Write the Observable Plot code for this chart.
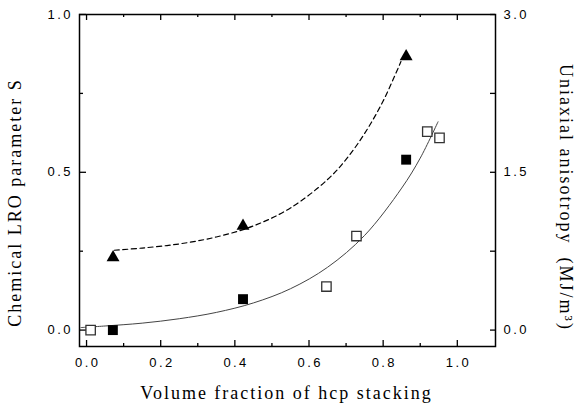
<!DOCTYPE html>
<html>
<head>
<meta charset="utf-8">
<script src="https://cdn.jsdelivr.net/npm/d3@7"></script>
<script src="https://cdn.jsdelivr.net/npm/@observablehq/plot@0.6"></script>
<style>
  body { margin: 0; background: #fff; }
  g[aria-label="text"] text { letter-spacing: 2px; }
  g[aria-label$="tick label"] text { letter-spacing: 2.4px; }
</style>
</head>
<body>
<div id="chart"></div>
<script>
// Chemical LRO parameter S versus volume fraction of hcp stacking
const openX = [0.011, 0.647, 0.728, 0.919, 0.952];
const openS = [0.0, 0.138, 0.298, 0.629, 0.609];
const filledX = [0.071, 0.422, 0.862];
const filledS = [0.0, 0.098, 0.540];

// Uniaxial anisotropy (MJ/m^3), read on the right-hand axis
const triX = [0.0715, 0.422, 0.862];
const triK = [0.69, 0.99, 2.60];

// Fitted trend through S (solid) and through anisotropy (dashed)
const fitSX = [-0.015, 0.05, 0.15, 0.25, 0.35, 0.45, 0.55, 0.65, 0.75, 0.85, 0.90, 0.948];
const fitS = [0.008, 0.013, 0.022, 0.036, 0.056, 0.086, 0.131, 0.199, 0.300, 0.450, 0.545, 0.660];
const fitKX = [0.075, 0.15, 0.25, 0.35, 0.45, 0.55, 0.65, 0.70, 0.75, 0.80, 0.848];
const fitK = [0.759, 0.78, 0.819, 0.885, 0.99, 1.161, 1.431, 1.623, 1.869, 2.178, 2.553];

// Axis ticks
const xMajor = [0, 0.2, 0.4, 0.6, 0.8, 1.0];
const xMinor = [0.1, 0.3, 0.5, 0.7, 0.9];
const sMajor = [0, 0.5, 1.0];
const sMinor = [0.25, 0.75];
const kLabels = [0, 1.5, 3.0];
const kAll = [0, 0.75, 1.5, 2.25, 3.0];
const kPerS = 3; // right axis spans 0–3 while the left spans 0–1

const zip = (xs, ys) => xs.map((x, i) => ({x, y: ys[i]}));
const openPts = zip(openX, openS);
const filledPts = zip(filledX, filledS);
const triPts = zip(triX, triK.map(k => k / kPerS));
const fitSPts = zip(fitSX, fitS);
const fitKPts = zip(fitKX, fitK.map(k => k / kPerS));

const serif = "'Liberation Serif', 'Times New Roman', serif";
const sans = "'Liberation Sans', Arial, Helvetica, sans-serif";

const W = 579, H = 407;
const M = {left: 79, right: 84, top: 14, bottom: 61};
const frameW = W - M.left - M.right;
const frameH = H - M.top - M.bottom;

// Short inward ticks: a full-frame tick trimmed down to its stub at one edge
const tickStyle = {stroke: "#000", strokeWidth: 1.3};
const bottomTicks = (v, len) => Plot.tickX(v, {x: d => d, insetTop: frameH - len, ...tickStyle});
const topTicks = (v, len) => Plot.tickX(v, {x: d => d, insetBottom: frameH - len, ...tickStyle});
const leftTicks = (v, len) => Plot.tickY(v, {y: d => d, insetRight: frameW - len, ...tickStyle});
const rightTicks = (v, len) => Plot.tickY(v, {y: d => d, insetLeft: frameW - len, ...tickStyle});

const chart = Plot.plot({
  width: W,
  height: H,
  marginLeft: M.left,
  marginRight: M.right,
  marginTop: M.top,
  marginBottom: M.bottom,
  style: {fontFamily: sans, fontSize: "13px", background: "#fff", color: "#000"},
  x: {domain: [-0.019, 1.103]},
  y: {domain: [-0.052, 1.0]},
  marks: [
    // tick labels
    Plot.axisX({anchor: "bottom", ticks: xMajor, tickSize: 0, tickPadding: 11, dx: 1.2,
      tickFormat: d => d.toFixed(1), label: null}),
    Plot.axisY({anchor: "left", ticks: sMajor, tickSize: 0, tickPadding: 9, dx: 2.4,
      tickFormat: d => d.toFixed(1), label: null}),
    Plot.axisY({anchor: "right", ticks: kLabels.map(k => k / kPerS), tickSize: 0, tickPadding: 8,
      tickFormat: d => (d * kPerS).toFixed(1), label: null}),

    // inward ticks on all four sides
    bottomTicks(xMajor, 6),
    bottomTicks(xMinor, 3),
    topTicks(xMajor, 6),
    topTicks(xMinor, 3),
    leftTicks(sMajor, 7),
    leftTicks(sMinor, 4),
    rightTicks(kAll.map(k => k / kPerS), 5),
    Plot.frame({stroke: "#000", strokeWidth: 1.5}),

    // fits
    Plot.line(fitSPts, {x: "x", y: "y", curve: "catmull-rom", stroke: "#444", strokeWidth: 1}),
    Plot.line(fitKPts, {x: "x", y: "y", curve: "catmull-rom", stroke: "#000", strokeWidth: 1.2, strokeDasharray: "5,3.5"}),

    // data points
    Plot.dot(openPts, {x: "x", y: "y", symbol: "square", r: 5.3, fill: "#fff", stroke: "#333", strokeWidth: 1.3}),
    Plot.dot(filledPts, {x: "x", y: "y", symbol: "square", r: 5.6, fill: "#000", stroke: "none"}),
    Plot.dot(triPts, {x: "x", y: "y", symbol: "triangle", r: 4.8, fill: "#000", stroke: "none"}),

    // axis titles
    Plot.text(["Volume fraction of hcp stacking"], {frameAnchor: "bottom", dx: -1, dy: 52,
      fontFamily: serif, fontSize: 18, fill: "#000", text: d => d}),
    Plot.text(["Chemical LRO parameter S"], {frameAnchor: "left", textAnchor: "middle", dx: -64, dy: 22, rotate: -90,
      fontFamily: serif, fontSize: 18, fill: "#000", text: d => d}),
    Plot.text(["Uniaxial anisotropy  (MJ/m³)"], {frameAnchor: "right", textAnchor: "middle", dx: 70, dy: 17, rotate: 90,
      fontFamily: serif, fontSize: 18, fill: "#000", text: d => d})
  ]
});

document.getElementById("chart").append(chart);
</script>
</body>
</html>
